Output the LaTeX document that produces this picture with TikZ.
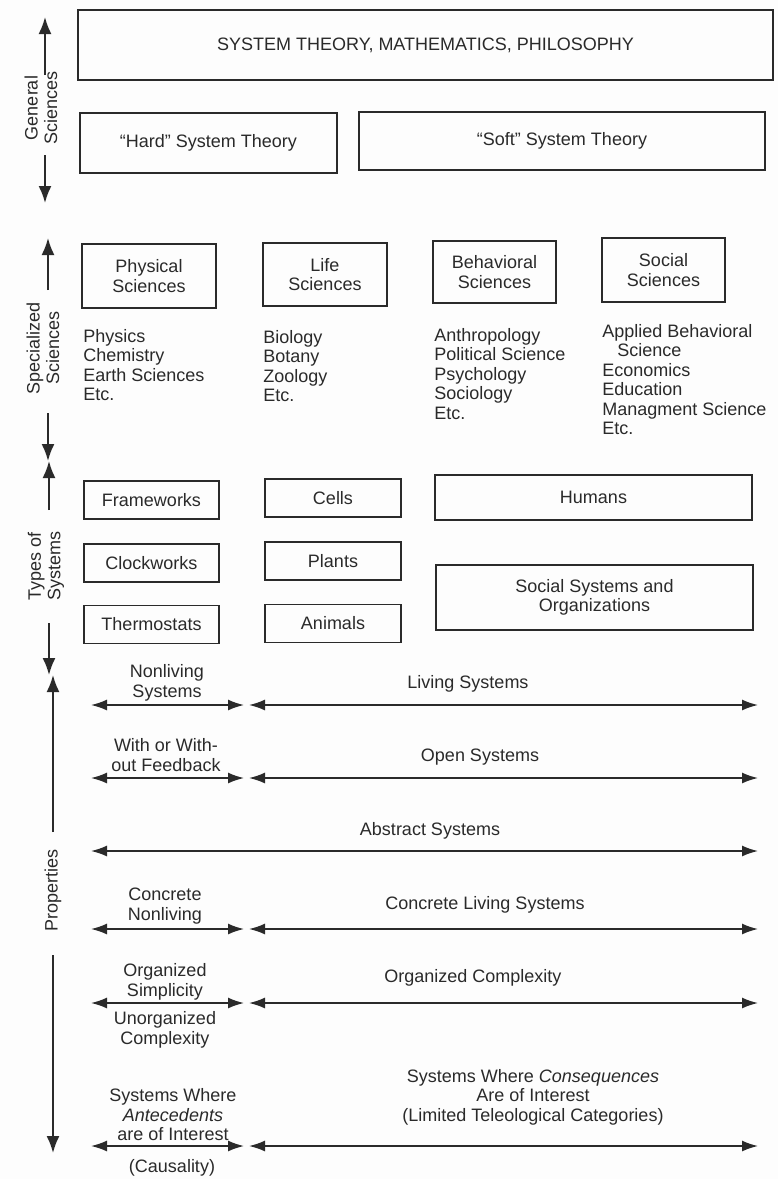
\documentclass[tikz,border=0pt]{standalone}
\usepackage{fontspec}
\setmainfont{Liberation Sans}
\usepackage{tikz}
\usetikzlibrary{positioning,arrows.meta}
\definecolor{ink}{HTML}{2A2A2A}
\definecolor{paper}{HTML}{FDFDFD}
\tikzset{
  box/.style={draw=ink,line width=1.7pt,inner sep=0pt,align=center,text=ink},
  list/.style={align=left,inner sep=0pt,anchor=north west,text=ink},
  lbl/.style={align=center,inner sep=0pt,text=ink},
  side/.style={align=center,inner sep=0pt,rotate=90,text=ink},
  axis/.style={-{Latex[length=17pt,width=13pt]},draw=ink,line width=1.9pt},
  span/.style={{Latex[length=16pt,width=11pt]}-{Latex[length=16pt,width=11pt]},draw=ink,line width=1.6pt}}

\begin{document}
\begin{tikzpicture}[x=1pt,y=-1pt,font=\fontsize{18}{19.5}\selectfont,node distance=23pt]
  \fill[paper] (0,0) rectangle (778,1179);
  \useasboundingbox (0,0) rectangle (778,1179);
  % general sciences
  \node[box,minimum width=695pt,minimum height=70pt] (gst) at (425.5,45) {SYSTEM THEORY, MATHEMATICS, PHILOSOPHY};
  \node[box,minimum width=257pt,minimum height=60pt] (hard) at (208.5,143) {``Hard'' System Theory};
  \node[box,minimum width=406pt,minimum height=58pt] (soft) at (562,141) {``Soft'' System Theory};
  % specialized sciences
  \node[box,minimum width=134pt,minimum height=64pt] (phys) at (149,276) {Physical\\Sciences};
  \node[box,minimum width=124pt,minimum height=63pt] (life) at (325,274.5) {Life\\Sciences};
  \node[box,minimum width=123pt,minimum height=62pt] (behav) at (494.5,272) {Behavioral\\Sciences};
  \node[box,minimum width=123pt,minimum height=64pt] (soc) at (663.5,270) {Social\\Sciences};
  \node[list,below right=20pt and 2pt of phys.south west] (physl) {Physics\\Chemistry\\Earth Sciences\\Etc.};
  \node[list,below right=23pt and 1pt of life.south west] (lifel) {Biology\\Botany\\Zoology\\Etc.};
  \node[list,below right=24pt and 2pt of behav.south west] (behavl) {Anthropology\\Political Science\\Psychology\\Sociology\\Etc.};
  \node[list,below right=21pt and 1pt of soc.south west] (socl) {Applied Behavioral\\\hspace*{15pt}Science\\Economics\\Education\\Managment Science\\Etc.};
  % types of systems
  \node[box,minimum width=135pt,minimum height=38pt] (frame) at (151.5,500) {Frameworks};
  \node[box,minimum width=135pt,minimum height=38pt,below=of frame] (clock) {Clockworks};
  \node[box,minimum width=135pt,minimum height=38pt,below=22pt of clock] (thermo) {Thermostats};
  \node[box,minimum width=136pt,minimum height=38pt] (cells) at (333,498) {Cells};
  \node[box,minimum width=136pt,minimum height=38pt,below=of cells] (plants) {Plants};
  \node[box,minimum width=136pt,minimum height=38pt,below=of plants] (animals) {Animals};
  \node[box,minimum width=317pt,minimum height=45pt] (humans) at (593.5,497.5) {Humans};
  \node[box,minimum width=317pt,minimum height=65pt] (socsys) at (594.5,597.5) {Social Systems and\\Organizations};
  % side labels and their arrows
  \node[side] (gen) at (41,108) {General\\Sciences};
  \node[side] (spec) at (43,348) {Specialized\\Sciences};
  \node[side] (types) at (46,566) {Types of\\Systems};
  \node[side] (prop) at (53,890) {Properties};
  \foreach \n/\x/\a/\b/\c/\d in {gen/45/17/75/155/203, spec/48/238/290/413/461,
                                 types/49/461/510/623/675, prop/53/675/832/955/1153} {
    \coordinate (\n-up) at (\x,\a);
    \coordinate (\n-a) at (\x,\b);
    \coordinate (\n-b) at (\x,\c);
    \coordinate (\n-dn) at (\x,\d);
    \draw[axis] (\n-a) -- (\n-up);
    \draw[axis] (\n-b) -- (\n-dn);
  }
  % properties
  \foreach \r/\y in {r1/705, r2/778, r4/929, r5/1003, r6/1146} {
    \coordinate (\r-a) at (91,\y);
    \coordinate (\r-b) at (244,\y);
    \coordinate (\r-c) at (249,\y);
    \coordinate (\r-d) at (758,\y);
    \draw[span] (\r-a) -- (\r-b);
    \draw[span] (\r-c) -- (\r-d);
  }
  \coordinate (r3-a) at (91,851);
  \coordinate (r3-d) at (758,851);
  \draw[span] (r3-a) -- (r3-d);
  \node[lbl] (nonliv) at (167,683) {Nonliving\\Systems};
  \node[lbl] (living) at (468,684) {Living Systems};
  \node[lbl] (feedb) at (166,755) {With or With-\\out Feedback};
  \node[lbl] (open) at (480,757) {Open Systems};
  \node[lbl] (abstr) at (430,831) {Abstract Systems};
  \node[lbl] (cnonliv) at (165,906) {Concrete\\Nonliving};
  \node[lbl] (cliving) at (485,905) {Concrete Living Systems};
  \node[lbl] (osimp) at (165,982) {Organized\\Simplicity};
  \node[lbl] (ucomp) at (165,1030) {Unorganized\\Complexity};
  \node[lbl] (ocomp) at (473,978) {Organized Complexity};
  \node[lbl] (antec) at (173,1115) {Systems Where\\\textit{Antecedents}\\are of Interest};
  \node[lbl] (caus) at (172,1168) {(Causality)};
  \node[lbl] (conseq) at (533,1097) {Systems Where \textit{Consequences}\\Are of Interest\\(Limited Teleological Categories)};
\end{tikzpicture}
\end{document}
